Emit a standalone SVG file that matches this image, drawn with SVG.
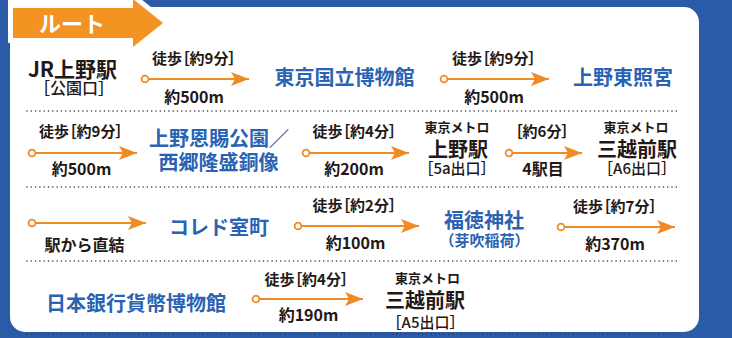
<svg xmlns="http://www.w3.org/2000/svg" width="732" height="338" viewBox="0 0 732 338">
<defs>
<style>
text{font-family:"Noto Sans CJK JP","Noto Sans",sans-serif;font-weight:700;text-anchor:middle}
.k{fill:#231815}
.b{fill:#2a63b3}
.lbl{font-size:15px;fill:#231815;font-feature-settings:"palt"}
.dist{font-size:16px;fill:#231815}
.big{font-size:20px}
.sm{font-size:13px;fill:#231815}
.ex{font-size:15px;fill:#231815;font-weight:500}
.conn{stroke:#f08a24;stroke-width:2;fill:none;marker-start:url(#dot);marker-end:url(#head)}
.sep{stroke:#3a3a3a;stroke-width:1.6;stroke-linecap:round;stroke-dasharray:0 4.3;fill:none}
</style>
<marker id="dot" markerUnits="userSpaceOnUse" markerWidth="10" markerHeight="10" refX="5" refY="5" orient="auto">
<circle cx="5" cy="5" r="3.4" fill="#fff" stroke="#f08a24" stroke-width="1.8"/>
</marker>
<marker id="head" markerUnits="userSpaceOnUse" markerWidth="20" markerHeight="16" refX="18" refY="8" orient="auto">
<path d="M0,1 L18,8 L0,15 L4,8 Z" fill="#f08a24"/>
</marker>
</defs>
<rect x="0" y="0" width="732" height="338" fill="#2a5ba8"/>
<rect x="10" y="7" width="689" height="325" rx="15" fill="#fff"/>
<rect x="8" y="0" width="122" height="20" fill="#fff"/>
<g id="tab">
<path d="M13,8 H133 V-1 L163,23 L133,47 V38 H13 Z" fill="#fff" stroke="#fff" stroke-width="10" stroke-linejoin="miter"/>
<path d="M13,8 H133 V-1 L163,23 L133,47 V38 H13 Z" fill="#f39322"/>
<text x="72" y="32" style="font-size:22px;fill:#fff">ルート</text>
</g>
<g id="separators">
<line class="sep" x1="27" y1="111" x2="679" y2="111"/>
<line class="sep" x1="27" y1="187" x2="679" y2="187"/>
<line class="sep" x1="27" y1="261" x2="679" y2="261"/>
<line class="sep" x1="27" y1="334" x2="679" y2="334"/>
</g>
<g id="connectors">
<line class="conn" x1="145" y1="79" x2="249" y2="79"/>
<line class="conn" x1="444" y1="79" x2="549" y2="79"/>
<line class="conn" x1="32" y1="153" x2="137" y2="153"/>
<line class="conn" x1="306" y1="153" x2="409" y2="153"/>
<line class="conn" x1="509" y1="153" x2="582" y2="153"/>
<line class="conn" x1="32" y1="223" x2="146" y2="223"/>
<line class="conn" x1="298" y1="226" x2="419" y2="226"/>
<line class="conn" x1="561" y1="227" x2="675" y2="227"/>
<line class="conn" x1="256" y1="299" x2="363" y2="299"/>
<text class="lbl" x="194" y="64">徒歩［約9分］</text>
<text class="dist" x="194" y="103">約500m</text>
<text class="lbl" x="494" y="64">徒歩［約9分］</text>
<text class="dist" x="494" y="103">約500m</text>
<text class="lbl" x="81" y="137">徒歩［約9分］</text>
<text class="dist" x="81.5" y="175">約500m</text>
<text class="lbl" x="354.5" y="137">徒歩［約4分］</text>
<text class="dist" x="354" y="175">約200m</text>
<text class="lbl" x="542" y="137">［約6分］</text>
<text class="dist" x="543" y="175">4駅目</text>
<text class="dist" x="84.5" y="251">駅から直結</text>
<text class="lbl" x="354.5" y="211">徒歩［約2分］</text>
<text class="dist" x="355.5" y="249">約100m</text>
<text class="lbl" x="615" y="212">徒歩［約7分］</text>
<text class="dist" x="615" y="250">約370m</text>
<text class="lbl" x="306.5" y="285">徒歩［約4分］</text>
<text class="dist" x="308.5" y="321">約190m</text>
</g>
<g id="jr-ueno">
<text class="k" x="72.5" y="77" style="font-size:21px">JR上野駅</text>
<text class="ex" x="74" y="94" style="font-size:16px">［公園口］</text>
</g>
<g id="tnm"><text class="b big" x="344.5" y="85">東京国立博物館</text></g>
<g id="toshogu"><text class="b big" x="623" y="85">上野東照宮</text></g>
<g id="onshi-park">
<text class="b big" x="219" y="146">上野恩賜公園／</text>
<text class="b big" x="218.5" y="170">西郷隆盛銅像</text>
</g>
<g id="metro-ueno">
<text class="sm" x="457" y="132">東京メトロ</text>
<text class="k big" x="458" y="157">上野駅</text>
<text class="ex" x="457" y="174">［5a出口］</text>
</g>
<g id="mitsukoshimae-a6">
<text class="sm" x="636" y="132">東京メトロ</text>
<text class="k big" x="637" y="157">三越前駅</text>
<text class="ex" x="637" y="174">［A6出口］</text>
</g>
<g id="coredo"><text class="b big" x="219" y="235">コレド室町</text></g>
<g id="fukutoku">
<text class="b big" x="484" y="228">福徳神社</text>
<text class="b" x="484.5" y="246" style="font-size:15px">（芽吹稲荷）</text>
</g>
<g id="boj-museum"><text class="b big" x="136" y="311">日本銀行貨幣博物館</text></g>
<g id="mitsukoshimae-a5">
<text class="sm" x="427.5" y="283">東京メトロ</text>
<text class="k big" x="425" y="308">三越前駅</text>
<text class="ex" x="425.5" y="328">［A5出口］</text>
</g>
</svg>
